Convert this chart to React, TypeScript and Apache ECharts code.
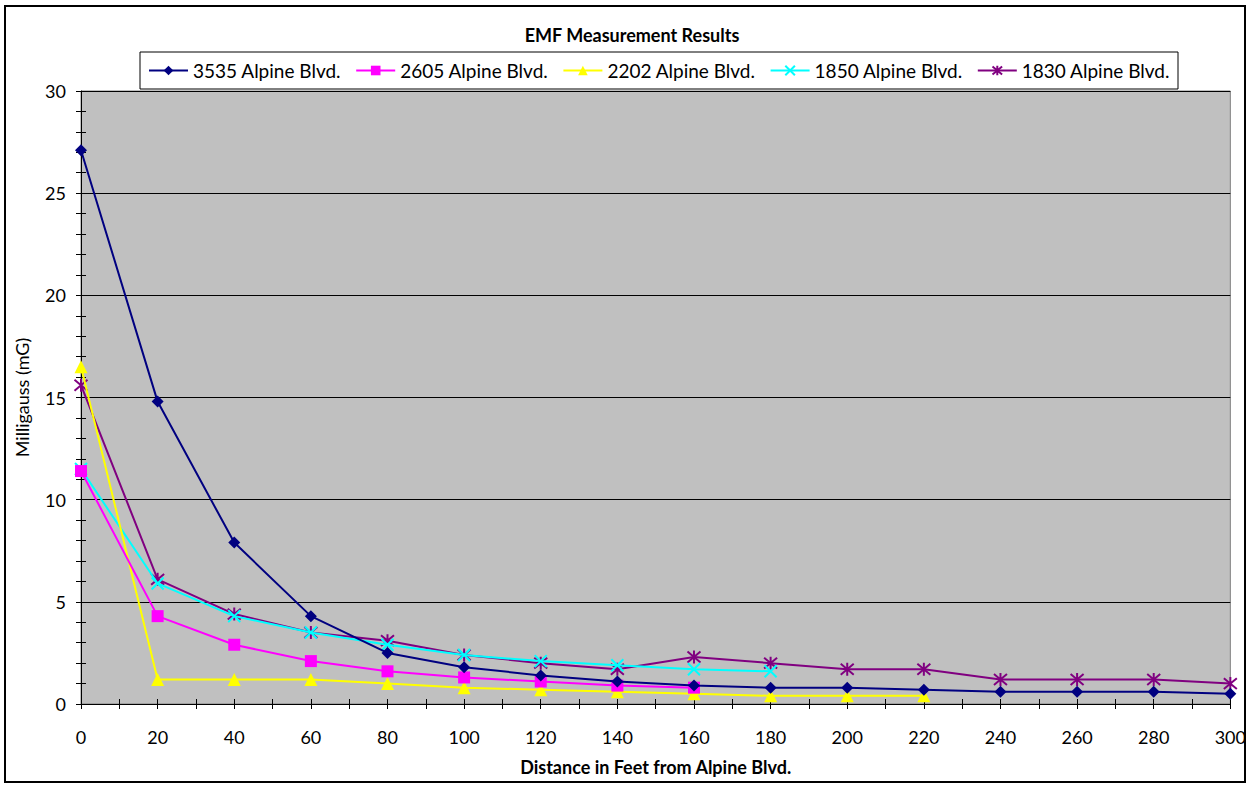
import React, { useEffect, useRef } from "react";
import * as echarts from "echarts";

const distances = [0, 20, 40, 60, 80, 100, 120, 140, 160, 180, 200, 220, 240, 260, 280, 300];
const seriesNames = ["3535 Alpine Blvd.", "2605 Alpine Blvd.", "2202 Alpine Blvd.", "1850 Alpine Blvd.", "1830 Alpine Blvd."];
const s3535 = [27.1, 14.8, 7.9, 4.3, 2.5, 1.8, 1.4, 1.1, 0.9, 0.8, 0.8, 0.7, 0.6, 0.6, 0.6, 0.5];
const s2605 = [11.4, 4.3, 2.9, 2.1, 1.6, 1.3, 1.1, 0.9, 0.8];
const s2202 = [16.5, 1.2, 1.2, 1.2, 1.0, 0.8, 0.7, 0.6, 0.5, 0.4, 0.4, 0.4];
const s1850 = [11.5, 5.9, 4.3, 3.5, 2.9, 2.4, 2.1, 1.9, 1.7, 1.6];
const s1830 = [15.6, 6.1, 4.4, 3.5, 3.1, 2.4, 2.0, 1.7, 2.3, 2.0, 1.7, 1.7, 1.2, 1.2, 1.2, 1.0];

const colors = ["#000080", "#FF00FF", "#FFFF00", "#00FFFF", "#800080"];
const FONT = "Lato, 'Open Sans', sans-serif";

function pairs(vals: number[]) {
  return vals.map((v, i) => [distances[i], v]);
}

export default function App() {
  const ref = useRef<HTMLDivElement>(null);
  useEffect(() => {
    document.body.style.margin = "0";
    const chart = echarts.init(ref.current!, null, { renderer: "svg" });
    const data = [s3535, s2605, s2202, s1850, s1830];
    const symbols = [
      "diamond",
      "rect",
      "triangle",
      "path://M0,0L10,10M10,0L0,10",
      "path://M0,0L10,10M10,0L0,10M5,-1L5,11",
    ];
    const sizes = [12, 12, 13, 12, 13];
    const series = data.map((vals, i) => {
      const strokeOnly = i >= 3;
      return {
        name: seriesNames[i],
        type: "line",
        data: pairs(vals),
        symbol: symbols[i],
        symbolSize: sizes[i],
        showAllSymbol: true,
        lineStyle: { color: colors[i], width: 2 },
        itemStyle: strokeOnly
          ? { color: "none", borderColor: colors[i], borderWidth: 2 }
          : { color: colors[i], borderWidth: 0 },
        emphasis: { disabled: true },
        z: 10 - i,
      };
    });
    const axisFont = { fontFamily: FONT, fontSize: 18, color: "#000" };
    chart.setOption({
      animation: false,
      backgroundColor: "#fff",
      title: {
        text: "EMF Measurement Results",
        left: 627,
        textAlign: "center",
        top: 21,
        textStyle: { fontFamily: FONT, fontSize: 18, fontWeight: "bold", color: "#000" },
      },
      legend: {
        top: 52,
        left: 140,
        data: seriesNames,
        itemWidth: 39,
        itemHeight: 12,
        itemGap: 14,
        padding: [9, 8, 9, 8],
        backgroundColor: "#fff",
        borderColor: "#000",
        borderWidth: 1,
        textStyle: { fontFamily: FONT, fontSize: 19, color: "#000" },
      },
      graphic: [
        {
          type: "rect",
          shape: { x: 5, y: 6, width: 1240, height: 776 },
          style: { fill: "none", stroke: "#000", lineWidth: 2 },
          silent: true,
          z: -1,
        },
      ],
      grid: {
        left: 81,
        right: 18,
        top: 91,
        bottom: 83,
        show: true,
        backgroundColor: "#C0C0C0",
        borderColor: "#808080",
        borderWidth: 1,
      },
      xAxis: [
        {
          type: "value",
          min: 0,
          max: 300,
          interval: 20,
          name: "Distance in Feet from Alpine Blvd.",
          nameLocation: "middle",
          nameGap: 54,
          nameTextStyle: { fontFamily: FONT, fontSize: 18, fontWeight: "bold", color: "#000" },
          axisLine: { lineStyle: { color: "#000", width: 1 } },
          axisTick: { show: true, length: 5, lineStyle: { color: "#000" } },
          minorTick: { show: true, splitNumber: 2, length: 5, lineStyle: { color: "#000" } },
          axisLabel: { ...axisFont, margin: 24 },
          splitLine: { show: false },
        },
        {
          type: "value",
          min: 0,
          max: 300,
          interval: 20,
          position: "bottom",
          axisLine: { show: false },
          axisTick: { show: true, inside: true, length: 5, lineStyle: { color: "#000" } },
          minorTick: { show: true, splitNumber: 2, length: 5, lineStyle: { color: "#000" } },
          axisLabel: { show: false },
          splitLine: { show: false },
        },
      ],
      yAxis: [
        {
          type: "value",
          min: 0,
          max: 30,
          interval: 5,
          name: "Milligauss (mG)",
          nameLocation: "middle",
          nameGap: 50,
          nameTextStyle: { fontFamily: FONT, fontSize: 18, color: "#000" },
          axisLine: { show: true, lineStyle: { color: "#000", width: 1 } },
          axisTick: { show: true, length: 5, lineStyle: { color: "#000" } },
          minorTick: { show: true, splitNumber: 5, length: 5, lineStyle: { color: "#000" } },
          axisLabel: { ...axisFont, margin: 15 },
          splitLine: { show: true, lineStyle: { color: "#000", width: 1 } },
        },
        {
          type: "value",
          min: 0,
          max: 30,
          interval: 5,
          position: "left",
          axisLine: { show: false },
          axisTick: { show: true, inside: true, length: 5, lineStyle: { color: "#000" } },
          minorTick: { show: true, splitNumber: 5, length: 5, lineStyle: { color: "#000" } },
          axisLabel: { show: false },
          splitLine: { show: false },
        },
      ],
      series,
    });
    return () => chart.dispose();
  }, []);
  return (
    <div
      ref={ref}
      style={{ position: "absolute", left: 0, top: 0, width: 1249, height: 787 }}
    />
  );
}
